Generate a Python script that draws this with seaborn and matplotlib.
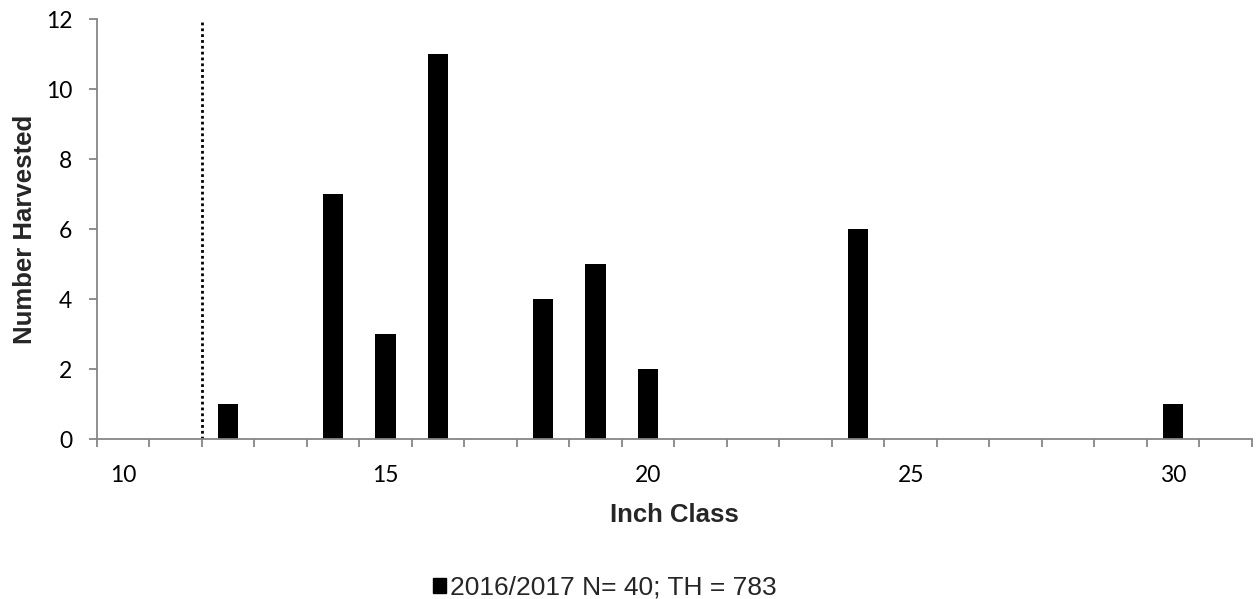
import matplotlib
matplotlib.use("Agg")
import matplotlib.pyplot as plt
import seaborn as sns
import pandas as pd
from matplotlib.patches import Patch
from matplotlib.ticker import FixedLocator

# ---- data ----
inch_class = list(range(10, 32))
harvested = [0, 0, 1, 0, 7, 3, 11, 0, 4, 5, 2, 0, 0, 0, 6, 0, 0, 0, 0, 0, 1, 0]
labeled_classes = [10, 15, 20, 25, 30]
y_ticks = [0, 2, 4, 6, 8, 10, 12]
min_legal_class = 12
series_label = "2016/2017 N= 40; TH = 783"

df = pd.DataFrame({"Inch Class": [str(c) for c in inch_class], "Number Harvested": harvested})

sns.set_style("white")
plt.rcParams["font.family"] = ["Liberation Sans", "DejaVu Sans"]

W, H = 1256, 599
fig = plt.figure(figsize=(W / 100, H / 100), dpi=100)
ax = fig.add_axes([96.7 / W, 1 - 439 / H, (1252 - 96.7) / W, (439 - 19) / H])

sns.barplot(data=df, x="Inch Class", y="Number Harvested", order=[str(c) for c in inch_class],
            color="black", width=0.39, ax=ax, saturation=1, edgecolor="black", linewidth=0)

# dotted minimum-size line between classes
xline = inch_class.index(min_legal_class) - 0.5
ax.vlines(xline, y_ticks[0], y_ticks[-1], colors="black", linestyles=(0, (1, 1.1)), linewidth=2.0)

n = len(inch_class)
ax.set_xlim(-0.5, n - 0.5)
ax.set_ylim(y_ticks[0], y_ticks[-1])

grey = "#868686"
for s in ["top", "right"]:
    ax.spines[s].set_visible(False)
for s in ["left", "bottom"]:
    ax.spines[s].set_color(grey)
    ax.spines[s].set_linewidth(1.3)

# x ticks: labels at class centers, tick marks at class boundaries
ax.xaxis.set_major_locator(FixedLocator([inch_class.index(c) for c in labeled_classes]))
ax.set_xticklabels([str(c) for c in labeled_classes])
ax.xaxis.set_minor_locator(FixedLocator([i - 0.5 for i in range(n + 1)]))
ax.tick_params(axis="x", which="major", length=0, pad=19)
ax.tick_params(axis="x", which="minor", length=5.5, width=1.3, color=grey, direction="out", bottom=True)

ax.set_yticks(y_ticks)
ax.set_yticklabels([str(v) for v in y_ticks])
ax.tick_params(axis="y", which="major", length=5.5, width=1.3, color=grey, direction="out", left=True, pad=12)

for lab in ax.get_xticklabels() + ax.get_yticklabels():
    lab.set_family(["Lato", "DejaVu Sans"])
    lab.set_fontsize(16.5)
    lab.set_color("black")

ax.set_xlabel("Inch Class", fontsize=18.5, fontweight="bold", labelpad=12)
ax.set_ylabel("Number Harvested", fontsize=18.5, fontweight="bold")
ax.yaxis.set_label_coords((37 - 96.7) / (1252 - 96.7), 0.5)

handle = Patch(facecolor="black", edgecolor="black", label=series_label)
fig.legend(handles=[handle], loc="center", bbox_to_anchor=(605 / W, 1 - 588 / H),
           frameon=False, fontsize=19, handlelength=0.5, handleheight=0.5,
           handletextpad=0.15, borderpad=0)

fig.savefig("out.png", dpi=100)
